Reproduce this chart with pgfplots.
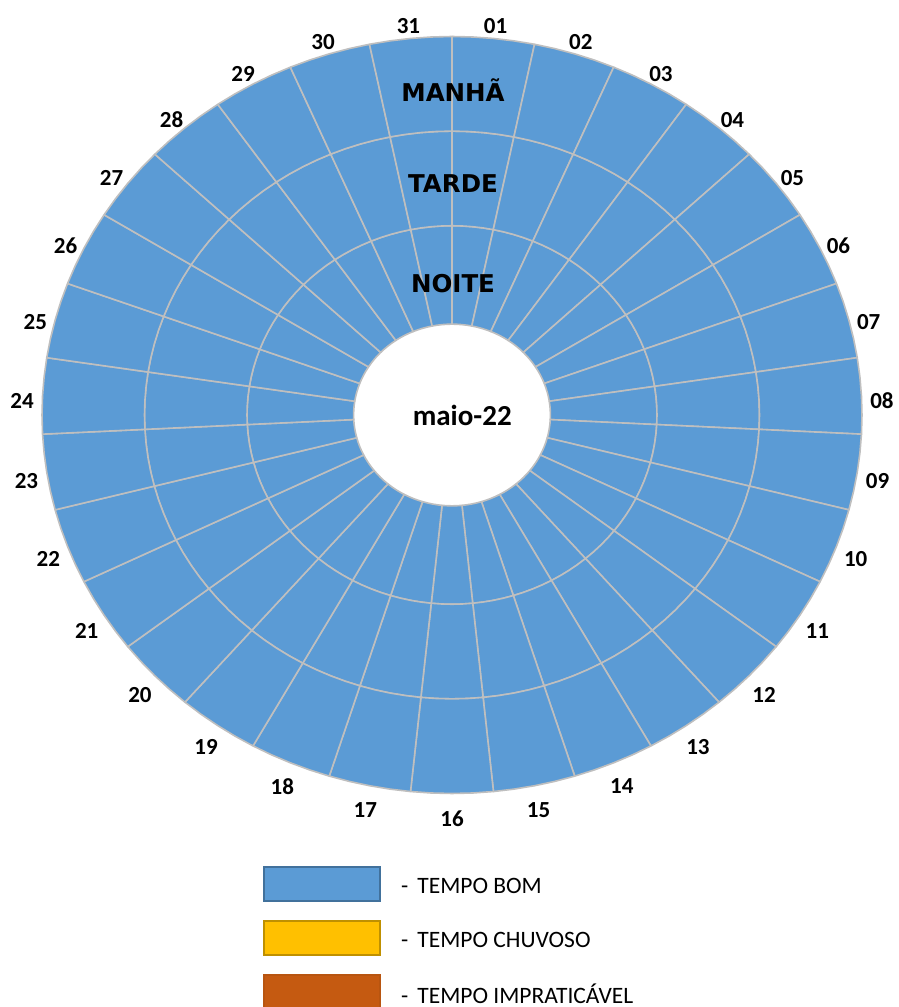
\documentclass[border=0pt]{standalone}
\usepackage{pgfplots}
\pgfplotsset{compat=1.18}
\usepackage{pgfplotstable}
\usepackage{fontspec}
\setmainfont{Carlito}
\newfontfamily\blackfont{DejaVu Sans}
\definecolor{st1}{HTML}{5B9BD5}
\definecolor{st2}{HTML}{FFC000}
\definecolor{st3}{HTML}{C55A11}
\definecolor{ed1}{HTML}{41719C}
\definecolor{ed2}{HTML}{BF9000}
\definecolor{ed3}{HTML}{B85510}
\definecolor{gridc}{HTML}{BFBFBF}

% status: 1 = tempo bom, 2 = tempo chuvoso, 3 = tempo impraticavel
\pgfplotstableread{
dia manha tarde noite
1 1 1 1
2 1 1 1
3 1 1 1
4 1 1 1
5 1 1 1
6 1 1 1
7 1 1 1
8 1 1 1
9 1 1 1
10 1 1 1
11 1 1 1
12 1 1 1
13 1 1 1
14 1 1 1
15 1 1 1
16 1 1 1
17 1 1 1
18 1 1 1
19 1 1 1
20 1 1 1
21 1 1 1
22 1 1 1
23 1 1 1
24 1 1 1
25 1 1 1
26 1 1 1
27 1 1 1
28 1 1 1
29 1 1 1
30 1 1 1
31 1 1 1
}\maio

\newcommand\daylabelfont{\fontsize{23}{23}\selectfont\bfseries}
\newcommand\wedgeplot[5]{%
  \pgfmathsetmacro\wA{#1}%
  \pgfmathsetmacro\wB{#1+(#2-#1)/4}%
  \pgfmathsetmacro\wC{#1+(#2-#1)/2}%
  \pgfmathsetmacro\wD{#1+3*(#2-#1)/4}%
  \pgfmathsetmacro\wE{#2}%
  \edef\wtemp{\noexpand\addplot[forget plot, data cs=polar, fill=#5, draw=gridc, line width=1.6pt, line join=round] coordinates {(\wA,#4) (\wB,#4) (\wC,#4) (\wD,#4) (\wE,#4) (\wE,#3) (\wD,#3) (\wC,#3) (\wB,#3) (\wA,#3) (\wA,#4)};}%
  \wtemp
}

\begin{document}
\begin{tikzpicture}
\begin{axis}[
  at={(452pt,592pt)}, anchor=center,
  scale only axis, width=820pt, height=757pt,
  xmin=-4, xmax=4, ymin=-4, ymax=4,
  hide axis, clip=false,
  legend style={at={(0.2695,-0.0958)}, anchor=north west, draw=none, fill=none,
    inner sep=0pt, row sep=18pt, column sep=0pt,
    font=\fontsize{23.5}{23.5}\selectfont, nodes={inner sep=0pt}},
  legend cell align=left,
]
\addlegendimage{legend image code/.code={\draw[fill=st1, draw=ed1, line width=2pt] (1pt,-15pt) rectangle (117pt,19pt);}}
\addlegendentry{\hspace*{20pt}-\hspace*{9pt}TEMPO BOM}
\addlegendimage{legend image code/.code={\draw[fill=st2, draw=ed2, line width=2pt] (1pt,-15pt) rectangle (117pt,19pt);}}
\addlegendentry{\hspace*{20pt}-\hspace*{9pt}TEMPO CHUVOSO}
\addlegendimage{legend image code/.code={\draw[fill=st3, draw=ed3, line width=2pt] (1pt,-15pt) rectangle (117pt,19pt);}}
\addlegendentry{\hspace*{20pt}-\hspace*{9pt}TEMPO IMPRATICÁVEL}

\pgfplotsforeachungrouped \i in {0,...,30}{%
  \pgfmathsetmacro\aA{90-\i*360/31}%
  \pgfmathsetmacro\aB{90-(\i+1)*360/31}%
  \pgfplotstablegetelem{\i}{noite}\of\maio \edef\sN{\pgfplotsretval}%
  \pgfplotstablegetelem{\i}{tarde}\of\maio \edef\sT{\pgfplotsretval}%
  \pgfplotstablegetelem{\i}{manha}\of\maio \edef\sM{\pgfplotsretval}%
  \wedgeplot{\aA}{\aB}{0.96}{2}{st\sN}%
  \wedgeplot{\aA}{\aB}{2}{3}{st\sT}%
  \wedgeplot{\aA}{\aB}{3}{4}{st\sM}%
  \pgfmathsetmacro\aM{90-(\i+0.5)*360/31}%
  \pgfmathsetmacro\lx{4.2*cos(\aM)}%
  \pgfmathsetmacro\ly{4.2*sin(\aM)-0.065}%
  \pgfmathtruncatemacro\dd{\i+1}%
  \ifnum\dd<10 \edef\dl{0\dd}\else\edef\dl{\dd}\fi
  \edef\ltemp{\noexpand\node[font=\noexpand\daylabelfont, inner sep=0pt] at (axis cs:\lx,\ly) {\dl};}%
  \ltemp
}
\node[font=\blackfont\bfseries\fontsize{24.5}{24.5}\selectfont, anchor=base, inner sep=0pt] at (axis cs:0.01,3.31) {MANHÃ};
\node[font=\blackfont\bfseries\fontsize{24.5}{24.5}\selectfont, anchor=base, inner sep=0pt] at (axis cs:0.01,2.35) {TARDE};
\node[font=\blackfont\bfseries\fontsize{24.5}{24.5}\selectfont, anchor=base, inner sep=0pt] at (axis cs:0.01,1.295) {NOITE};
\node[font=\bfseries\fontsize{29}{29}\selectfont, anchor=base, inner sep=0pt] at (axis cs:0.1,-0.106) {maio-22};
\end{axis}
\pgfresetboundingbox
\useasboundingbox (0,0) rectangle (898pt,1007pt);
\end{tikzpicture}
\end{document}
